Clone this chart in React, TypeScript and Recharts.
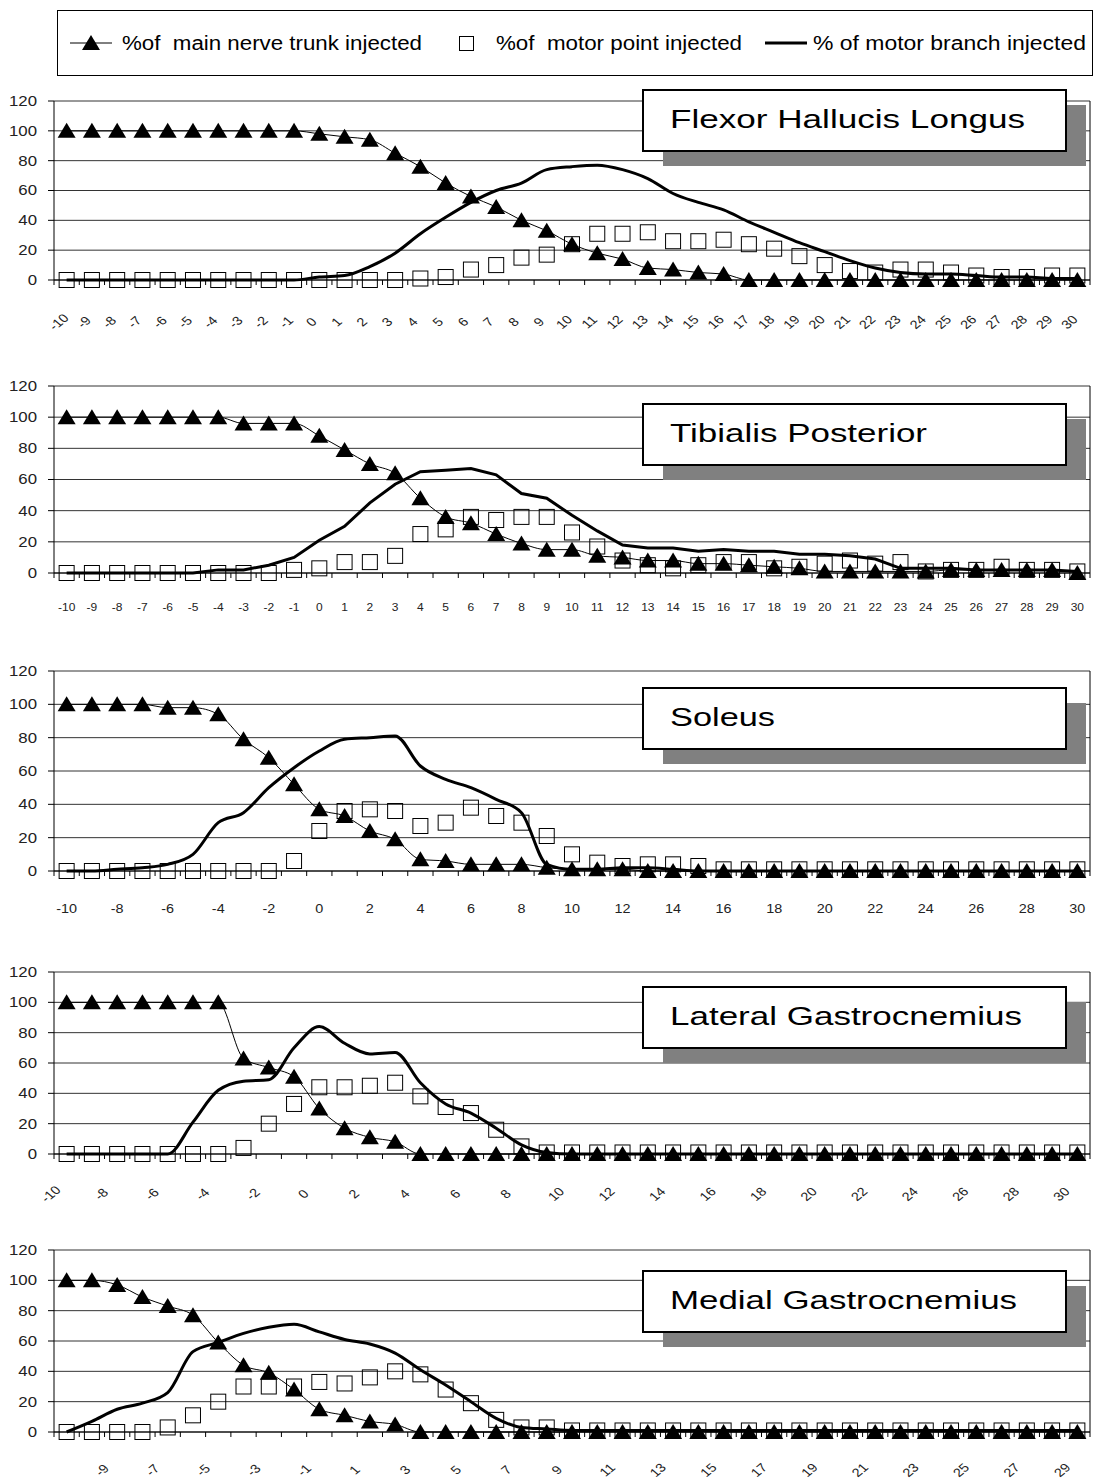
import React from "react";
import {
  CartesianGrid,
  Line,
  LineChart,
  ReferenceLine,
  XAxis,
  YAxis,
} from "recharts";

const FONT = '"Liberation Sans", Arial, Helvetica, sans-serif';

// distance categories (mm), shared by every panel
const X_VALUES = [
  -10, -9, -8, -7, -6, -5, -4, -3, -2, -1, 0, 1, 2, 3, 4, 5, 6, 7, 8, 9, 10,
  11, 12, 13, 14, 15, 16, 17, 18, 19, 20, 21, 22, 23, 24, 25, 26, 27, 28, 29,
  30,
];
const Y_TICKS = [0, 20, 40, 60, 80, 100, 120];

// Flexor Hallucis Longus
const FHL_TRUNK = [
  100, 100, 100, 100, 100, 100, 100, 100, 100, 100,
  98, 96, 94, 85, 76, 65, 56, 49, 40, 33,
  24, 18, 14, 8, 7, 5, 4, 0, 0, 0,
  0, 0, 0, 0, 0, 0, 0, 0, 0, 0, 0,
];
const FHL_POINT = [
  0, 0, 0, 0, 0, 0, 0, 0, 0, 0,
  0, 0, 0, 0, 1, 2, 7, 10, 15, 17,
  24, 31, 31, 32, 26, 26, 27, 24, 21, 16,
  10, 6, 5, 7, 7, 5, 3, 2, 2, 3, 3,
];
const FHL_BRANCH = [
  0, 0, 0, 0, 0, 0, 0, 0, 0, 0,
  2, 3, 9, 18, 31, 42, 52, 60, 65, 74,
  76, 77, 74, 68, 58, 52, 47, 39, 32, 25,
  19, 13, 8, 5, 4, 4, 3, 2, 2, 1, 1,
];

// Tibialis Posterior
const TP_TRUNK = [
  100, 100, 100, 100, 100, 100, 100, 96, 96, 96,
  88, 79, 70, 64, 48, 36, 32, 25, 19, 15,
  15, 11, 10, 8, 8, 6, 6, 5, 4, 3,
  1, 1, 1, 1, 1, 2, 2, 2, 2, 2, 0,
];
const TP_POINT = [
  0, 0, 0, 0, 0, 0, 0, 0, 0, 2,
  3, 7, 7, 11, 25, 28, 36, 34, 36, 36,
  26, 17, 8, 5, 3, 5, 7, 7, 3, 4,
  6, 8, 6, 7, 1, 2, 2, 4, 2, 2, 1,
];
const TP_BRANCH = [
  0, 0, 0, 0, 0, 0, 2, 2, 5, 10,
  21, 30, 45, 57, 65, 66, 67, 63, 51, 48,
  37, 27, 18, 16, 16, 14, 15, 14, 14, 12,
  12, 11, 9, 3, 3, 3, 2, 2, 2, 2, 1,
];

// Soleus
const SOL_TRUNK = [
  100, 100, 100, 100, 98, 98, 94, 79, 68, 52,
  37, 33, 24, 19, 7, 6, 4, 4, 4, 2,
  1, 1, 1, 0, 0, 0, 0, 0, 0, 0,
  0, 0, 0, 0, 0, 0, 0, 0, 0, 0, 0,
];
const SOL_POINT = [
  0, 0, 0, 0, 0, 0, 0, 0, 0, 6,
  24, 36, 37, 36, 27, 29, 38, 33, 29, 21,
  10, 5, 3, 4, 4, 3, 1, 1, 1, 1,
  1, 1, 1, 1, 1, 1, 1, 1, 1, 1, 1,
];
const SOL_BRANCH = [
  0, 0, 1, 2, 4, 10, 29, 35, 50, 62,
  72, 79, 80, 81, 63, 55, 50, 43, 35, 4,
  1, 1, 2, 2, 1, 0, 0, 0, 0, 0,
  0, 0, 0, 0, 0, 0, 0, 0, 0, 0, 0,
];

// Lateral Gastrocnemius
const LG_TRUNK = [
  100, 100, 100, 100, 100, 100, 100, 63, 57, 51,
  30, 17, 11, 8, 0, 0, 0, 0, 0, 0,
  0, 0, 0, 0, 0, 0, 0, 0, 0, 0,
  0, 0, 0, 0, 0, 0, 0, 0, 0, 0, 0,
];
const LG_POINT = [
  0, 0, 0, 0, 0, 0, 0, 4, 20, 33,
  44, 44, 45, 47, 38, 31, 27, 16, 5, 1,
  1, 1, 1, 1, 1, 1, 1, 1, 1, 1,
  1, 1, 1, 1, 1, 1, 1, 1, 1, 1, 1,
];
const LG_BRANCH = [
  0, 0, 0, 0, 0, 21, 42, 48, 49, 70,
  84, 73, 66, 67, 47, 33, 27, 17, 6, 1,
  0, 0, 0, 0, 0, 0, 0, 0, 0, 0,
  0, 0, 0, 0, 0, 0, 0, 0, 0, 0, 0,
];

// Medial Gastrocnemius
const MG_TRUNK = [
  100, 100, 97, 89, 83, 77, 59, 44, 39, 28,
  15, 11, 7, 5, 0, 0, 0, 0, 0, 0,
  0, 0, 0, 0, 0, 0, 0, 0, 0, 0,
  0, 0, 0, 0, 0, 0, 0, 0, 0, 0, 0,
];
const MG_POINT = [
  0, 0, 0, 0, 3, 11, 20, 30, 30, 30,
  33, 32, 36, 40, 38, 28, 19, 8, 3, 3,
  1, 1, 1, 1, 1, 1, 1, 1, 1, 1,
  1, 1, 1, 1, 1, 1, 1, 1, 1, 1, 1,
];
const MG_BRANCH = [
  0, 7, 15, 19, 26, 53, 59, 65, 69, 71,
  66, 61, 58, 52, 41, 31, 20, 9, 3, 2,
  1, 1, 1, 1, 1, 1, 1, 1, 1, 1,
  1, 1, 1, 1, 1, 1, 1, 1, 1, 1, 1,
];

const LEGEND_LABELS = [
  "%of  main nerve trunk injected",
  "%of  motor point injected",
  "% of motor branch injected",
];
const PANEL_TITLES = [
  "Flexor Hallucis Longus",
  "Tibialis Posterior",
  "Soleus",
  "Lateral Gastrocnemius",
  "Medial Gastrocnemius",
];

// layout (page pixels)
const PAGE_W = 1095;
const PAGE_H = 1481;
const PLOT_LEFT = 54;
const RIGHT_MARGIN = 5;
const PLOT_W = PAGE_W - PLOT_LEFT - RIGHT_MARGIN;
const STEP = PLOT_W / X_VALUES.length;
const MARGIN_TOP = 10;
const X_AXIS_H = 56;
const SX = 1.2; // the source image is stretched sideways

type LabelMode = "rot-all" | "rot-even" | "rot-odd" | "flat-all" | "flat-even";

interface PanelSpec {
  plotTop: number;
  plotHeight: number;
  boxTop: number;
  titleWidth: number;
  mode: LabelMode;
  labelDx: number;
  labelDy: number;
  fontSize: number;
  branchCurve: "monotone" | "linear";
  trunk: number[];
  point: number[];
  branch: number[];
}

const PANELS: PanelSpec[] = [
  { plotTop: 101, plotHeight: 179, boxTop: 90, titleWidth: 355, mode: "rot-all", labelDx: -8, labelDy: 42, fontSize: 12, branchCurve: "monotone", trunk: FHL_TRUNK, point: FHL_POINT, branch: FHL_BRANCH },
  { plotTop: 386, plotHeight: 187, boxTop: 404, titleWidth: 257, mode: "flat-all", labelDx: 0, labelDy: 34, fontSize: 10, branchCurve: "linear", trunk: TP_TRUNK, point: TP_POINT, branch: TP_BRANCH },
  { plotTop: 671, plotHeight: 200, boxTop: 688, titleWidth: 105, mode: "flat-even", labelDx: 0, labelDy: 38, fontSize: 12, branchCurve: "monotone", trunk: SOL_TRUNK, point: SOL_POINT, branch: SOL_BRANCH },
  { plotTop: 972, plotHeight: 182, boxTop: 987, titleWidth: 352, mode: "rot-even", labelDx: -16, labelDy: 40, fontSize: 12, branchCurve: "monotone", trunk: LG_TRUNK, point: LG_POINT, branch: LG_BRANCH },
  { plotTop: 1250, plotHeight: 182, boxTop: 1271, titleWidth: 347, mode: "rot-odd", labelDx: 10, labelDy: 38, fontSize: 12, branchCurve: "monotone", trunk: MG_TRUNK, point: MG_POINT, branch: MG_BRANCH },
];

const rowsOf = (trunk: number[], point: number[], branch: number[]) =>
  X_VALUES.map((x, i) => ({ x, trunk: trunk[i], point: point[i], branch: branch[i] }));

function TriangleDot(props: any) {
  const { cx, cy } = props;
  if (cx == null || cy == null) return <g />;
  return <path d={`M${cx},${cy - 8}L${cx + 9},${cy + 7}L${cx - 9},${cy + 7}Z`} fill="#000" />;
}

function SquareDot(props: any) {
  const { cx, cy } = props;
  if (cx == null || cy == null) return <g />;
  return <rect x={cx - 7.5} y={cy - 7.5} width={15} height={15} fill="none" stroke="#000" strokeWidth={1} />;
}

function YTick(props: any) {
  const { x, y, payload } = props;
  return (
    <text
      transform={`translate(${x - 9},${y}) scale(${SX},1)`}
      textAnchor="end"
      dy="0.35em"
      fontSize={14}
      fontFamily={FONT}
      fill="#222"
    >
      {payload.value}
    </text>
  );
}

function XTick(props: any) {
  const { x, payload, axisY, mode, labelDx, labelDy, fontSize } = props;
  const v: number = payload.value;
  const isLast = v === X_VALUES[X_VALUES.length - 1];
  let show = true;
  if (mode.endsWith("even")) show = v % 2 === 0;
  if (mode.endsWith("odd")) show = Math.abs(v % 2) === 1;
  const rotated = mode.startsWith("rot");
  const left = x - STEP / 2;
  return (
    <g>
      <line x1={left} x2={left} y1={axisY} y2={axisY + 5} stroke="#000" />
      {isLast && <line x1={x + STEP / 2} x2={x + STEP / 2} y1={axisY} y2={axisY + 5} stroke="#000" />}
      {show &&
        (rotated ? (
          <text
            transform={`translate(${x + labelDx},${axisY + labelDy}) scale(${SX},1) rotate(-45)`}
            textAnchor="middle"
            dy="0.35em"
            fontSize={fontSize}
            fontFamily={FONT}
            fill="#222"
          >
            {v}
          </text>
        ) : (
          <text
            transform={`translate(${x + labelDx},${axisY + labelDy}) scale(${SX},1)`}
            textAnchor="middle"
            dy="0.35em"
            fontSize={fontSize}
            fontFamily={FONT}
            fill="#222"
          >
            {v}
          </text>
        ))}
    </g>
  );
}

function Panel({ spec }: { spec: PanelSpec }) {
  const rows = rowsOf(spec.trunk, spec.point, spec.branch);
  const height = MARGIN_TOP + spec.plotHeight + X_AXIS_H;
  const axisY = MARGIN_TOP + spec.plotHeight;
  return (
    <div style={{ position: "absolute", left: 0, top: spec.plotTop - MARGIN_TOP }}>
      <LineChart
        width={PAGE_W}
        height={height}
        data={rows}
        margin={{ top: MARGIN_TOP, right: RIGHT_MARGIN, bottom: 0, left: 0 }}
      >
        <CartesianGrid vertical={false} stroke="#333" />
        <XAxis
          type="number"
          dataKey="x"
          domain={[-10.5, 30.5]}
          ticks={X_VALUES}
          interval={0}
          tickLine={false}
          axisLine={{ stroke: "#000" }}
          height={X_AXIS_H}
          tick={
            <XTick
              axisY={axisY}
              mode={spec.mode}
              labelDx={spec.labelDx}
              labelDy={spec.labelDy}
              fontSize={spec.fontSize}
            />
          }
        />
        <YAxis
          type="number"
          domain={[0, 120]}
          ticks={Y_TICKS}
          interval={0}
          width={PLOT_LEFT}
          tickSize={6}
          tickLine={{ stroke: "#000" }}
          axisLine={{ stroke: "#000" }}
          tick={<YTick />}
        />
        <ReferenceLine x={30.5} stroke="#000" />
        <Line
          dataKey="trunk"
          type="monotone"
          stroke="#000"
          strokeWidth={1}
          dot={<TriangleDot />}
          isAnimationActive={false}
        />
        <Line
          dataKey="point"
          stroke="none"
          dot={<SquareDot />}
          isAnimationActive={false}
        />
        <Line
          dataKey="branch"
          type={spec.branchCurve}
          stroke="#000"
          strokeWidth={3}
          dot={false}
          isAnimationActive={false}
        />
      </LineChart>
    </div>
  );
}

function Overlay() {
  const boxLeft = 643;
  const boxW = 423;
  const boxH = 61;
  return (
    <svg
      width={PAGE_W}
      height={PAGE_H}
      style={{ position: "absolute", left: 0, top: 0, pointerEvents: "none", zIndex: 2 }}
    >
      {/* legend */}
      <rect x={57.5} y={10.5} width={1035} height={65} fill="#fff" stroke="#000" />
      <line x1={70} x2={112} y1={43} y2={43} stroke="#000" />
      <path d="M91,35L100,50L82,50Z" fill="#000" />
      <text x={122} y={50} fontSize={20} fontFamily={FONT} fill="#000" textLength={300} lengthAdjust="spacingAndGlyphs" style={{ whiteSpace: "pre" }}>
        {LEGEND_LABELS[0]}
      </text>
      <rect x={459.5} y={36.5} width={14} height={14} fill="none" stroke="#000" />
      <text x={496} y={50} fontSize={20} fontFamily={FONT} fill="#000" textLength={246} lengthAdjust="spacingAndGlyphs" style={{ whiteSpace: "pre" }}>
        {LEGEND_LABELS[1]}
      </text>
      <line x1={765} x2={807} y1={43} y2={43} stroke="#000" strokeWidth={3} />
      <text x={813} y={50} fontSize={20} fontFamily={FONT} fill="#000" textLength={273} lengthAdjust="spacingAndGlyphs" style={{ whiteSpace: "pre" }}>
        {LEGEND_LABELS[2]}
      </text>

      {/* panel titles */}
      {PANELS.map((p, i) => (
        <g key={PANEL_TITLES[i]}>
          <rect x={boxLeft + 20} y={p.boxTop + 15} width={boxW} height={boxH} fill="#808080" />
          <rect x={boxLeft} y={p.boxTop} width={boxW} height={boxH} fill="#fff" stroke="#000" strokeWidth={2} />
          <text
            x={670}
            y={p.boxTop + 38}
            fontSize={26}
            fontFamily={FONT}
            fill="#000"
            textLength={p.titleWidth}
            lengthAdjust="spacingAndGlyphs"
          >
            {PANEL_TITLES[i]}
          </text>
        </g>
      ))}
    </svg>
  );
}

export default function App() {
  return (
    <div
      style={{
        position: "relative",
        width: PAGE_W,
        height: PAGE_H,
        overflow: "hidden",
        background: "#fff",
        fontFamily: FONT,
      }}
    >
      <style>{"body{margin:0}"}</style>
      {PANELS.map((p) => (
        <Panel key={p.plotTop} spec={p} />
      ))}
      <Overlay />
    </div>
  );
}
